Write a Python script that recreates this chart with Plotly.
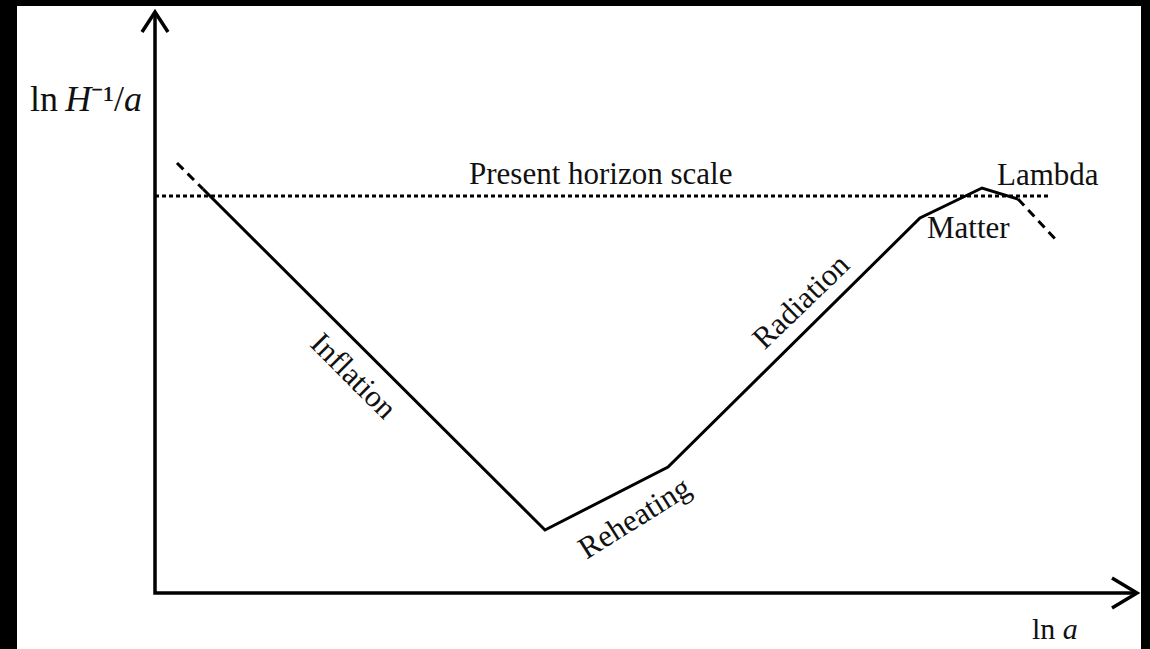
import plotly.graph_objects as go

# Schematic evolution of the comoving Hubble radius (arbitrary units)
# Solid history: end of inflation -> reheating -> radiation -> matter -> lambda
ln_a_main = [4.8, 39.0, 51.3, 76.5, 82.7, 86.3]
ln_rh_main = [40.4, 6.3, 12.6, 37.5, 40.5, 39.4]

# Dashed extrapolations before the horizon crossing and into the future
ln_a_early = [2.2, 4.8]
ln_rh_early = [43.0, 40.4]
ln_a_future = [86.3, 90.3]
ln_rh_future = [39.4, 35.1]

# Present horizon scale
horizon_level = 39.7
horizon_x = [0.0, 89.3]

# Extent of the drawn axes
X_MAX = 98.2
Y_MAX = 58.1

fig = go.Figure()

line_kw = dict(mode="lines", hoverinfo="skip", showlegend=False)

# Axes with open arrow heads
fig.add_trace(go.Scatter(x=[0, 0, X_MAX], y=[Y_MAX, 0, 0],
                         line=dict(color="black", width=3.5), **line_kw))
fig.add_trace(go.Scatter(x=[-1.3, 0, 1.3], y=[Y_MAX - 2.0, Y_MAX, Y_MAX - 2.0],
                         line=dict(color="black", width=3.5), **line_kw))
fig.add_trace(go.Scatter(x=[X_MAX - 2.5, X_MAX, X_MAX - 2.5], y=[1.5, 0, -1.5],
                         line=dict(color="black", width=3.5), **line_kw))

fig.add_trace(go.Scatter(x=horizon_x, y=[horizon_level, horizon_level],
                         line=dict(color="black", width=3, dash="4px,3px"), **line_kw))
fig.add_trace(go.Scatter(x=ln_a_early, y=ln_rh_early,
                         line=dict(color="black", width=3, dash="9px,6px"), **line_kw))
fig.add_trace(go.Scatter(x=ln_a_future, y=ln_rh_future,
                         line=dict(color="black", width=3, dash="9px,6px"), **line_kw))
fig.add_trace(go.Scatter(x=ln_a_main, y=ln_rh_main,
                         line=dict(color="black", width=3), **line_kw))

serif = "Liberation Serif, Times New Roman, serif"
ann = []


def label(text, x, y, size=31, angle=0):
    ann.append(dict(text=text, x=x, y=y, xref="x", yref="y", showarrow=False,
                    textangle=angle, xanchor="center", yanchor="middle",
                    font=dict(family=serif, size=size, color="#111")))


label("Present horizon scale", 44.5, 42.0)
label("Lambda", 89.3, 41.9)
label("Matter", 81.3, 36.6)
label("Inflation", 19.9, 21.8, angle=45)
label("Reheating", 47.9, 7.6, angle=-32)
label("Radiation", 64.5, 29.2, angle=-44)
label("ln\u2009<i>H</i>⁻¹/<i>a</i>", -6.9, 49.4, size=36)
label("ln <i>a</i>", 90.0, -3.5, size=30)

fig.update_layout(
    width=1150, height=649,
    margin=dict(l=17, r=9, t=6, b=0, pad=0),
    paper_bgcolor="black",
    plot_bgcolor="white",
    annotations=ann,
    xaxis=dict(range=[-13.8, 98.6], showgrid=False, zeroline=False, showticklabels=False,
               ticks="", showline=False, fixedrange=True),
    yaxis=dict(range=[-5.6, 58.7], showgrid=False, zeroline=False, showticklabels=False,
               ticks="", showline=False, fixedrange=True),
)

fig.write_html("out.html")
